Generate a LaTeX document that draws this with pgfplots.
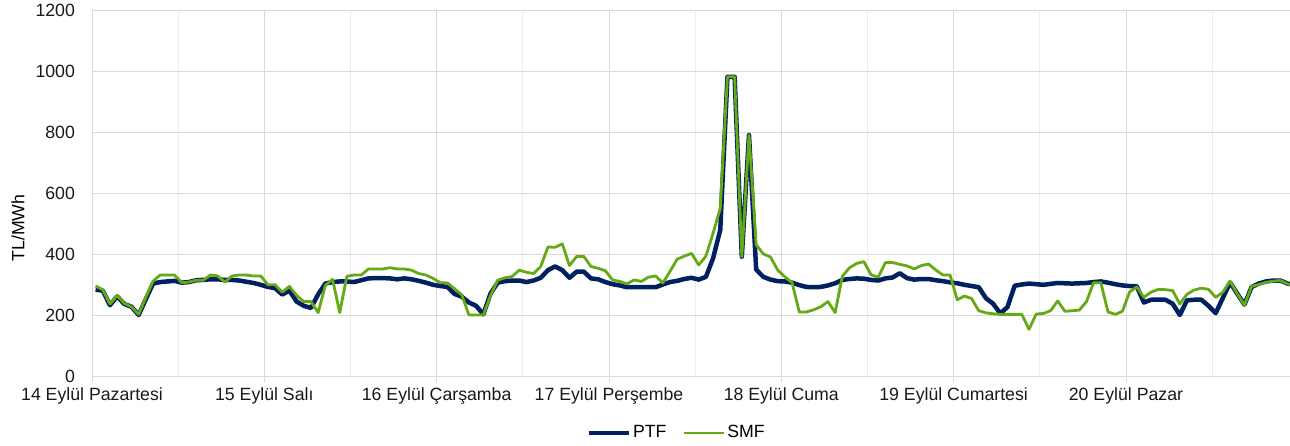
\documentclass[border=0pt]{standalone}
\usepackage{fontspec}
\setmainfont{Liberation Sans}
\usepackage{pgfplots}
\usepackage{pgfplotstable}
\pgfplotsset{compat=1.18}

\definecolor{ptfc}{RGB}{0,32,96}
\definecolor{smfc}{RGB}{100,170,20}
\definecolor{gridc}{RGB}{217,217,217}
\definecolor{gridm}{RGB}{236,236,236}

% hourly prices, 14-20 September (h = hour from start)
\pgfplotstableread{
h ptf smf
0 283 295
1 280 283
2 232 236
3 261 264
4 236 238
5 227 227
6 200 202
7 252 258
8 303 311
9 308 331
10 310 331
11 312 331
12 306 306
13 308 308
14 314 314
15 315 314
16 317 331
17 317 328
18 315 308
19 315 328
20 313 331
21 309 331
22 305 328
23 299 328
24 292 299
25 288 299
26 267 275
27 280 294
28 244 264
29 230 244
30 223 244
31 268 208
32 303 297
33 308 317
34 310 208
35 310 327
36 308 331
37 314 331
38 320 351
39 321 351
40 321 351
41 320 355
42 317 351
43 320 351
44 317 347
45 312 336
46 306 331
47 299 320
48 295 306
49 292 305
50 269 286
51 260 266
52 241 200
53 230 200
54 202 200
55 270 264
56 306 314
57 311 322
58 313 326
59 313 347
60 308 340
61 313 336
62 322 359
63 347 423
64 359 422
65 347 433
66 322 362
67 342 392
68 342 392
69 320 359
70 317 353
71 308 345
72 301 315
73 297 310
74 291 302
75 291 315
76 291 310
77 291 324
78 291 328
79 300 305
80 308 343
81 312 383
82 318 393
83 322 402
84 316 364
85 325 393
86 386 468
87 479 550
88 981 981
89 981 981
90 391 391
91 790 790
92 349 430
93 325 400
94 316 390
95 311 347
96 310 325
97 306 306
98 298 210
99 292 210
100 291 217
101 292 227
102 297 244
103 304 208
104 315 327
105 318 355
106 320 369
107 319 375
108 315 332
109 313 324
110 320 372
111 323 372
112 337 366
113 321 361
114 316 351
115 318 362
116 318 367
117 314 348
118 311 331
119 307 331
120 304 250
121 299 262
122 295 254
123 291 214
124 255 207
125 237 204
126 205 202
127 226 202
128 296 202
129 300 202
130 303 153
131 301 203
132 299 205
133 302 214
134 305 246
135 304 212
136 303 214
137 304 216
138 305 244
139 308 306
140 310 306
141 306 210
142 301 202
143 297 212
144 295 275
145 294 292
146 241 258
147 250 275
148 250 284
149 250 283
150 237 280
151 200 236
152 248 268
153 250 282
154 250 288
155 230 284
156 206 258
157 256 275
158 307 311
159 270 270
160 234 232
161 292 294
162 303 300
163 310 307
164 313 311
165 313 313
166 303 302
167 298 296
}\prices

\begin{document}
\fontsize{17.7}{21}\selectfont
\begin{tikzpicture}
\begin{axis}[
    scale only axis,
    width=1198pt, height=366pt,
    xmin=0, xmax=166.85,
    ymin=0, ymax=1200,
    axis lines*=left,
    axis line style={gridc, line width=0.8pt},
    xtick={0,24,...,144},
    minor xtick={12,36,...,156},
    xticklabels={14 Eylül Pazartesi, 15 Eylül Salı, 16 Eylül Çarşamba,
        17 Eylül Perşembe, 18 Eylül Cuma, 19 Eylül Cumartesi, 20 Eylül Pazar},
    ytick={0,200,...,1200},
    grid=both,
    major grid style={gridc, line width=0.8pt},
    minor grid style={gridm, line width=0.8pt},
    tick align=outside,
    major tick length=6pt,
    minor tick length=0pt,
    x tick style={gridc, line width=0.8pt},
    y tick style={draw=none},
    tick label style={font=\fontsize{17.7}{21}\selectfont, text=black!90},
    yticklabel style={xshift=-5pt},
    /pgf/number format/assume math mode=true,
    /pgf/number format/1000 sep={},
    ylabel={TL/MWh},
    ylabel style={at={(axis description cs:-0.0618,0.404)}, anchor=center,
        font=\fontsize{17.7}{21}\selectfont},
    legend style={at={(0.488,-0.156)}, anchor=center, draw=none,
        legend columns=2, font=\fontsize{17.7}{21}\selectfont,
        /tikz/every even column/.append style={column sep=14pt}},
    legend image code/.code={\draw[#1] (0pt,0pt) -- (40pt,0pt);},
]
\addplot[ptfc, line width=4.5pt, line join=round]
    table[x expr=\thisrow{h}+0.5, y=ptf] {\prices};
\addplot[smfc, line width=2.8pt, line join=round]
    table[x expr=\thisrow{h}+0.5, y=smf] {\prices};
\legend{PTF,SMF}
\end{axis}
\pgfresetboundingbox
\path (-92pt,-70pt) rectangle (1198pt,376pt);
\end{tikzpicture}
\end{document}
